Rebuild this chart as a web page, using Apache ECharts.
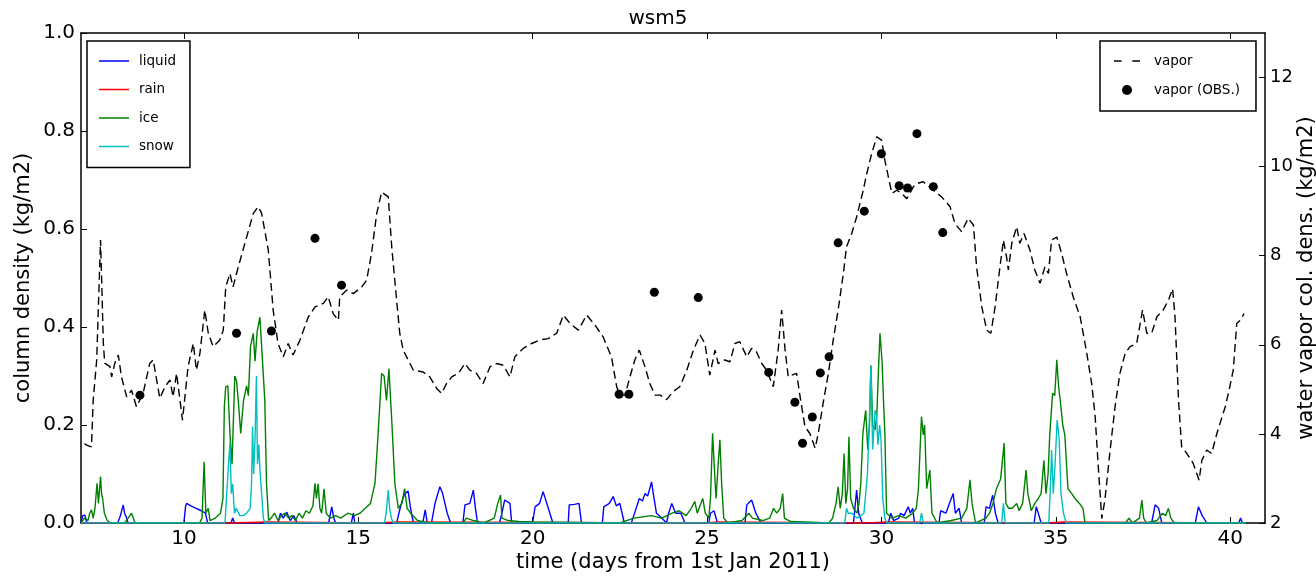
<!DOCTYPE html>
<html>
<head>
<meta charset="utf-8">
<script src="https://cdn.jsdelivr.net/npm/echarts@6/dist/echarts.min.js"></script>
<style>
html,body{margin:0;padding:0;background:#fff;}
#chart{width:1316px;height:576px;}
</style>
</head>
<body>
<div id="chart"></div>
<script>
// ---- data (time in days from 1st Jan 2011) ----
const xTicks = [10, 15, 20, 25, 30, 35, 40];
const leftTicks = [0, 0.2, 0.4, 0.6, 0.8, 1.0];
const rightTicks = [2, 4, 6, 8, 10, 12];

const liquid = [[7.05,0],[7.1,0.015],[7.16,0.016],[7.22,0],[8.1,0],[8.18,0.015],[8.26,0.037],[8.3,0.02],[8.35,0.012],[8.4,0],[10.0,0],[10.05,0.035],[10.08,0.04],[10.2,0.035],[10.35,0.03],[10.5,0.025],[10.62,0.02],[10.68,0],[11.35,0],[11.4,0.01],[11.45,0],[12.7,0],[12.77,0.02],[12.85,0.01],[12.95,0.022],[13.05,0.005],[13.15,0.015],[13.25,0],[14.15,0],[14.24,0.033],[14.3,0.01],[14.35,0],[14.8,0],[14.86,0.02],[14.9,0],[16.1,0],[16.19,0.027],[16.28,0.05],[16.34,0.06],[16.43,0.065],[16.5,0.03],[16.58,0],[16.85,0],[16.92,0.027],[16.98,0],[17.1,0],[17.2,0.04],[17.34,0.074],[17.42,0.06],[17.55,0.02],[17.65,0],[18.0,0],[18.06,0.037],[18.2,0.04],[18.3,0.067],[18.36,0.03],[18.42,0],[19.05,0],[19.12,0.02],[19.2,0.047],[19.35,0.04],[19.4,0],[20.0,0],[20.07,0.033],[20.2,0.04],[20.3,0.064],[20.45,0.03],[20.58,0],[21.02,0],[21.05,0.037],[21.2,0.038],[21.33,0.04],[21.4,0],[22.0,0],[22.04,0.033],[22.2,0.04],[22.31,0.054],[22.4,0.035],[22.5,0.04],[22.63,0],[22.83,0],[22.9,0.015],[23.06,0.05],[23.15,0.045],[23.22,0.06],[23.3,0.055],[23.41,0.084],[23.46,0.06],[23.55,0.02],[23.7,0.01],[23.84,0],[23.9,0.02],[23.99,0.04],[24.1,0.02],[24.25,0.02],[24.37,0],[25.05,0],[25.1,0.02],[25.2,0.025],[25.3,0],[26.09,0],[26.14,0.037],[26.28,0.047],[26.4,0.02],[26.55,0],[29.2,0],[29.29,0.067],[29.35,0.02],[29.45,0],[30.2,0],[30.27,0.02],[30.35,0.005],[30.5,0.01],[30.55,0.02],[30.65,0.015],[30.77,0.033],[30.83,0.02],[30.9,0.03],[30.95,0],[31.65,0],[31.7,0.025],[31.85,0.02],[31.95,0.04],[32.06,0.06],[32.12,0.02],[32.23,0.03],[32.3,0],[32.95,0],[33.0,0.033],[33.1,0.03],[33.19,0.057],[33.27,0.02],[33.35,0],[34.38,0],[34.44,0.033],[34.5,0.02],[34.58,0],[37.75,0],[37.85,0.037],[37.95,0.03],[38.04,0],[39.0,0],[39.09,0.033],[39.2,0.015],[39.33,0],[40.25,0],[40.3,0.01],[40.35,0],[40.45,0]];

const rain = [[7.05,0],[11.3,0],[11.35,0.002],[12.35,0.002],[12.4,0],[15.5,0],[15.55,0.002],[16.15,0.002],[16.2,0],[24.95,0],[25.0,0.002],[25.3,0.002],[25.35,0],[29.6,0],[29.65,0.002],[30.15,0.002],[30.2,0],[34.75,0],[34.8,0.002],[35.2,0.002],[35.25,0],[40.45,0]];

const ice = [[7.05,0],[7.15,0.01],[7.25,0.005],[7.3,0.02],[7.35,0.027],[7.4,0.01],[7.45,0.03],[7.51,0.081],[7.55,0.04],[7.61,0.095],[7.64,0.06],[7.67,0.05],[7.72,0.02],[7.8,0.005],[7.9,0],[8.3,0],[8.4,0.01],[8.5,0.02],[8.6,0],[10.45,0],[10.52,0.01],[10.58,0.125],[10.63,0.02],[10.7,0.03],[10.75,0.005],[10.9,0.01],[11.05,0.02],[11.12,0.05],[11.16,0.237],[11.2,0.278],[11.26,0.28],[11.32,0.183],[11.38,0.12],[11.46,0.3],[11.51,0.29],[11.56,0.25],[11.63,0.183],[11.71,0.25],[11.8,0.28],[11.85,0.26],[11.91,0.36],[11.99,0.387],[12.04,0.33],[12.1,0.39],[12.18,0.42],[12.23,0.36],[12.32,0.25],[12.37,0.08],[12.43,0.005],[12.5,0.01],[12.6,0.02],[12.7,0.005],[12.8,0.015],[12.9,0.02],[13.0,0.01],[13.1,0.015],[13.2,0.005],[13.3,0.02],[13.4,0.01],[13.5,0.025],[13.6,0.02],[13.7,0.035],[13.76,0.081],[13.8,0.05],[13.85,0.08],[13.9,0.03],[13.95,0.02],[14.02,0.07],[14.08,0.02],[14.2,0.01],[14.35,0.015],[14.5,0.01],[14.7,0.02],[14.9,0.015],[15.05,0.02],[15.2,0.03],[15.35,0.04],[15.48,0.081],[15.57,0.183],[15.67,0.305],[15.74,0.3],[15.81,0.25],[15.88,0.315],[15.96,0.21],[16.05,0.08],[16.15,0.03],[16.25,0.04],[16.33,0.07],[16.4,0.03],[16.5,0.02],[16.7,0.005],[17.0,0],[18.0,0],[18.1,0.01],[18.3,0.005],[18.6,0],[18.9,0.01],[19.0,0.04],[19.08,0.057],[19.12,0.01],[19.3,0.005],[19.6,0.003],[20.0,0.002],[22.5,0],[22.9,0.01],[23.1,0.012],[23.4,0.015],[23.7,0.01],[24.0,0.02],[24.2,0.025],[24.4,0.015],[24.55,0.03],[24.65,0.044],[24.72,0.02],[24.8,0.035],[24.88,0.05],[24.95,0.02],[25.05,0.01],[25.1,0.05],[25.16,0.183],[25.22,0.1],[25.26,0.05],[25.32,0.12],[25.37,0.17],[25.42,0.08],[25.48,0.01],[25.6,0],[26.0,0.005],[26.2,0.02],[26.3,0.01],[26.6,0.005],[26.8,0.01],[26.91,0.03],[27.0,0.02],[27.1,0.03],[27.17,0.06],[27.22,0.01],[27.4,0.003],[28.5,0],[28.6,0.01],[28.7,0.04],[28.76,0.074],[28.82,0.03],[28.88,0.06],[28.93,0.142],[28.98,0.04],[29.03,0.07],[29.07,0.176],[29.12,0.05],[29.2,0.03],[29.3,0.02],[29.36,0.04],[29.41,0.081],[29.47,0.183],[29.55,0.23],[29.61,0.15],[29.66,0.2],[29.7,0.322],[29.75,0.2],[29.82,0.19],[29.87,0.22],[29.91,0.3],[29.96,0.387],[30.02,0.33],[30.06,0.25],[30.1,0.183],[30.15,0.02],[30.3,0.01],[30.5,0.015],[30.7,0.01],[30.9,0.02],[31.0,0.03],[31.06,0.067],[31.15,0.217],[31.2,0.18],[31.24,0.2],[31.3,0.07],[31.39,0.108],[31.45,0.02],[31.6,0],[32.0,0.005],[32.3,0.01],[32.45,0.03],[32.54,0.088],[32.6,0.04],[32.7,0],[33.0,0.01],[33.1,0.02],[33.2,0.04],[33.3,0.07],[33.42,0.09],[33.52,0.163],[33.57,0.04],[33.65,0.03],[33.75,0.03],[33.88,0.04],[33.95,0.025],[34.05,0.04],[34.15,0.108],[34.2,0.06],[34.3,0.025],[34.4,0.04],[34.5,0.05],[34.58,0.06],[34.66,0.128],[34.72,0.06],[34.78,0.1],[34.83,0.183],[34.91,0.265],[34.97,0.26],[35.03,0.333],[35.08,0.28],[35.13,0.25],[35.2,0.2],[35.26,0.18],[35.35,0.07],[35.46,0.06],[35.55,0.05],[35.68,0.04],[35.78,0.03],[35.84,0],[37.0,0],[37.1,0.01],[37.2,0],[37.4,0.01],[37.47,0.047],[37.52,0.01],[37.6,0],[37.9,0.005],[38.06,0.02],[38.15,0.015],[38.23,0.03],[38.3,0.01],[38.4,0],[40.45,0]];

const snow = [[7.05,0],[11.18,0],[11.22,0.05],[11.28,0.12],[11.32,0.163],[11.36,0.06],[11.4,0.08],[11.45,0.02],[11.5,0.03],[11.6,0.015],[11.7,0.015],[11.8,0.02],[11.9,0.03],[11.94,0.08],[11.97,0.197],[12.0,0.1],[12.04,0.17],[12.08,0.3],[12.11,0.12],[12.15,0.16],[12.18,0.11],[12.23,0.06],[12.28,0.01],[12.32,0],[15.75,0],[15.8,0.02],[15.86,0.067],[15.9,0.03],[15.95,0.01],[16.0,0],[28.95,0],[29.0,0.03],[29.05,0.02],[29.15,0.02],[29.3,0.01],[29.5,0.02],[29.6,0.1],[29.65,0.2],[29.7,0.32],[29.75,0.15],[29.82,0.23],[29.86,0.22],[29.9,0.16],[29.95,0.2],[29.99,0.17],[30.04,0.05],[30.1,0.01],[30.15,0],[31.1,0],[31.15,0.02],[31.2,0],[33.45,0],[33.5,0.04],[33.55,0],[34.8,0],[34.85,0.08],[34.88,0.149],[34.93,0.06],[34.98,0.12],[35.04,0.21],[35.1,0.17],[35.15,0.06],[35.22,0.02],[35.3,0],[40.45,0]];

const vapor = [[7.15,3.78],[7.21,3.75],[7.35,3.71],[7.4,4.76],[7.5,5.66],[7.61,8.35],[7.64,7.53],[7.69,6.04],[7.73,5.59],[7.88,5.51],[7.93,5.28],[8.02,5.59],[8.12,5.77],[8.21,5.28],[8.36,4.83],[8.5,4.98],[8.64,4.61],[8.83,4.91],[9.02,5.58],[9.12,5.66],[9.31,4.8],[9.46,5.06],[9.6,5.21],[9.69,4.83],[9.79,5.36],[9.96,4.31],[10.12,5.51],[10.27,6.03],[10.36,5.43],[10.46,5.81],[10.6,6.78],[10.7,6.26],[10.84,5.96],[11.03,6.11],[11.13,6.33],[11.2,7.3],[11.32,7.6],[11.41,7.3],[11.56,7.75],[11.8,8.42],[11.99,8.95],[12.13,9.1],[12.23,8.95],[12.42,8.13],[12.56,6.78],[12.7,6.03],[12.85,5.73],[12.99,6.03],[13.13,5.77],[13.33,6.11],[13.57,6.63],[13.76,6.85],[14.0,6.93],[14.14,7.08],[14.28,6.7],[14.43,6.55],[14.47,7.08],[14.67,7.23],[14.86,7.15],[15.1,7.3],[15.24,7.45],[15.38,8.05],[15.53,8.95],[15.67,9.43],[15.86,9.32],[15.96,8.2],[16.1,7.0],[16.19,6.26],[16.29,5.88],[16.43,5.66],[16.58,5.43],[16.86,5.39],[17.05,5.28],[17.25,5.02],[17.39,4.91],[17.53,5.13],[17.68,5.28],[17.87,5.36],[18.06,5.58],[18.2,5.43],[18.39,5.36],[18.58,5.13],[18.78,5.51],[18.97,5.58],[19.16,5.54],[19.35,5.28],[19.49,5.73],[19.73,5.92],[19.97,6.03],[20.21,6.11],[20.45,6.14],[20.69,6.26],[20.88,6.67],[21.07,6.48],[21.31,6.33],[21.55,6.67],[21.79,6.44],[22.02,6.18],[22.26,5.73],[22.41,5.06],[22.5,4.87],[22.65,4.87],[22.79,5.28],[22.93,5.66],[23.06,5.88],[23.22,5.51],[23.36,5.13],[23.51,4.87],[23.66,4.87],[23.84,4.77],[24.03,4.95],[24.22,5.06],[24.42,5.43],[24.61,5.88],[24.8,6.22],[24.94,6.03],[25.08,5.32],[25.23,5.88],[25.32,5.58],[25.51,5.66],[25.66,5.62],[25.8,6.03],[25.94,6.07],[26.14,5.73],[26.28,5.92],[26.42,5.84],[26.57,5.58],[26.71,5.43],[26.9,5.06],[27.04,5.88],[27.14,6.78],[27.24,5.88],[27.33,5.28],[27.43,5.32],[27.57,5.36],[27.67,4.83],[27.81,4.16],[27.95,4.01],[28.1,3.68],[28.19,4.01],[28.33,4.69],[28.48,5.36],[28.62,6.11],[28.76,6.78],[28.91,7.6],[29.0,8.2],[29.15,8.5],[29.29,8.87],[29.48,9.47],[29.58,9.84],[29.72,10.29],[29.87,10.67],[30.01,10.59],[30.1,10.14],[30.2,9.77],[30.3,9.4],[30.44,9.47],[30.58,9.4],[30.73,9.28],[30.92,9.55],[31.01,9.62],[31.2,9.66],[31.49,9.47],[31.73,9.32],[31.97,9.1],[32.11,8.72],[32.3,8.54],[32.49,8.84],[32.64,8.69],[32.73,7.75],[32.88,6.85],[33.02,6.33],[33.14,6.26],[33.26,6.85],[33.4,7.75],[33.5,8.35],[33.59,7.97],[33.64,7.68],[33.74,8.28],[33.88,8.65],[33.97,8.28],[34.09,8.5],[34.26,8.13],[34.4,7.68],[34.55,7.38],[34.69,7.75],[34.79,7.6],[34.88,8.35],[35.03,8.42],[35.17,8.05],[35.31,7.6],[35.5,7.08],[35.7,6.63],[35.89,5.81],[36.03,5.13],[36.13,4.39],[36.22,3.26],[36.32,2.1],[36.41,2.52],[36.56,3.64],[36.7,4.61],[36.84,5.36],[36.99,5.81],[37.13,5.96],[37.32,6.03],[37.49,6.78],[37.61,6.26],[37.75,6.26],[37.9,6.63],[38.08,6.78],[38.23,7.0],[38.35,7.26],[38.42,6.63],[38.52,4.76],[38.61,3.71],[38.76,3.56],[38.94,3.34],[39.11,2.96],[39.19,3.41],[39.33,3.64],[39.47,3.56],[39.62,4.01],[39.86,4.61],[39.95,4.91],[40.09,5.43],[40.19,6.48],[40.29,6.55],[40.4,6.7]];

const vaporObs = [[8.74,4.87],[11.51,6.26],[12.51,6.31],[13.76,8.39],[14.52,7.34],[22.48,4.89],[22.76,4.89],[23.49,7.18],[24.75,7.06],[26.77,5.38],[27.52,4.71],[27.74,3.79],[28.02,4.38],[28.25,5.37],[28.5,5.73],[28.76,8.29],[29.51,9.0],[30.0,10.29],[30.51,9.57],[30.75,9.52],[31.02,10.74],[31.49,9.55],[31.76,8.52]];

// ---- chart ----
const FONT = 'DejaVu Sans';
const axisLineStyle = {color: '#000', width: 1.5};
const tickStyle = {color: '#000', width: 1};
const chart = echarts.init(document.getElementById('chart'), null, {renderer: 'canvas'});

function lineSeries(name, data, color, yIdx, extra) {
  return Object.assign({
    name: name, type: 'line', data: data, xAxisIndex: 0, yAxisIndex: yIdx,
    symbol: 'none', showSymbol: false, animation: false,
    lineStyle: {color: color, width: 1.4}, itemStyle: {color: color}
  }, extra || {});
}

const LINE_ICON = 'path://M0,0H30V1.5H0Z';
const DASH_ICON = 'path://M0,0H7.6V1.5H0ZM18.3,0H26V1.5H18.3Z';

chart.setOption({
  animation: false,
  backgroundColor: '#fff',
  textStyle: {fontFamily: FONT, color: '#000'},
  title: {
    text: 'wsm5', left: 'center', top: 4,
    textStyle: {fontFamily: FONT, fontSize: 20, fontWeight: 'normal', color: '#000'}
  },
  grid: {left: 81, right: 51, top: 33, bottom: 53, containLabel: false, outerBoundsMode: 'none'},
  legend: [
    {
      data: [
        {name: 'liquid', icon: LINE_ICON},
        {name: 'rain', icon: LINE_ICON},
        {name: 'ice', icon: LINE_ICON},
        {name: 'snow', icon: LINE_ICON}
      ],
      orient: 'vertical', left: 87, top: 41,
      padding: [13, 14, 14, 12],
      itemWidth: 30, itemHeight: 14, itemGap: 14.5,
      backgroundColor: '#fff', borderColor: '#000', borderWidth: 1.5, borderRadius: 0,
      textStyle: {fontFamily: FONT, fontSize: 13.5, color: '#000', padding: [0, 0, 0, 5]},
      selectedMode: false
    },
    {
      data: [
        {name: 'vapor', icon: DASH_ICON},
        {name: 'vapor (OBS.)', icon: 'circle'}
      ],
      orient: 'vertical', left: 1100, top: 41,
      padding: [13, 16, 14, 14],
      itemWidth: 26, itemHeight: 10, itemGap: 15,
      backgroundColor: '#fff', borderColor: '#000', borderWidth: 1.5, borderRadius: 0,
      textStyle: {fontFamily: FONT, fontSize: 13.5, color: '#000', padding: [0, 0, 0, 9]},
      selectedMode: false
    }
  ],
  xAxis: [
    {
      type: 'value', min: 7.05, max: 41, position: 'bottom',
      name: 'time (days from 1st Jan 2011)', nameLocation: 'middle', nameGap: 29, nameMoveOverlap: false,
      nameTextStyle: {fontFamily: FONT, fontSize: 21, color: '#000'},
      axisLine: {show: true, onZero: false, lineStyle: axisLineStyle},
      axisTick: {show: true, inside: true, length: 6, customValues: xTicks, lineStyle: tickStyle},
      axisLabel: {show: true, customValues: xTicks, fontFamily: FONT, fontSize: 20, color: '#000', margin: 6},
      splitLine: {show: false}
    },
    {
      type: 'value', min: 7.05, max: 41, position: 'top',
      axisLine: {show: true, onZero: false, lineStyle: axisLineStyle},
      axisTick: {show: true, inside: true, length: 6, customValues: xTicks, lineStyle: tickStyle},
      axisLabel: {show: false},
      splitLine: {show: false}
    }
  ],
  yAxis: [
    {
      type: 'value', min: 0, max: 1, position: 'left',
      name: 'column density (kg/m2)', nameLocation: 'middle', nameGap: 47, nameMoveOverlap: false,
      nameTextStyle: {fontFamily: FONT, fontSize: 21, color: '#000'},
      axisLine: {show: true, onZero: false, lineStyle: axisLineStyle},
      axisTick: {show: true, inside: true, length: 6, customValues: leftTicks, lineStyle: tickStyle},
      axisLabel: {show: true, customValues: leftTicks, fontFamily: FONT, fontSize: 20, color: '#000', margin: 6,
        formatter: v => Number(v).toFixed(1)},
      splitLine: {show: false}
    },
    {
      type: 'value', min: 2, max: 13, position: 'right',
      name: 'water vapor col. dens. (kg/m2)', nameLocation: 'middle', nameGap: 31, nameMoveOverlap: false,
      nameTextStyle: {fontFamily: FONT, fontSize: 21, color: '#000'},
      axisLine: {show: true, onZero: false, lineStyle: axisLineStyle},
      axisTick: {show: true, inside: true, length: 6, customValues: rightTicks, lineStyle: tickStyle},
      axisLabel: {show: true, customValues: rightTicks, fontFamily: FONT, fontSize: 18, color: '#000', margin: 5},
      splitLine: {show: false}
    }
  ],
  series: [
    lineSeries('liquid', liquid, '#0000ff', 0),
    lineSeries('rain', rain, '#ff0000', 0),
    lineSeries('ice', ice, '#008000', 0),
    lineSeries('snow', snow, '#00bfbf', 0),
    lineSeries('vapor', vapor, '#000000', 1, {lineStyle: {color: '#000', width: 1.4, type: [8, 4.5]}}),
    {
      name: 'vapor (OBS.)', type: 'scatter', data: vaporObs, xAxisIndex: 0, yAxisIndex: 1,
      symbol: 'circle', symbolSize: 9, itemStyle: {color: '#000', opacity: 1}, animation: false
    }
  ]
});
</script>
</body>
</html>
